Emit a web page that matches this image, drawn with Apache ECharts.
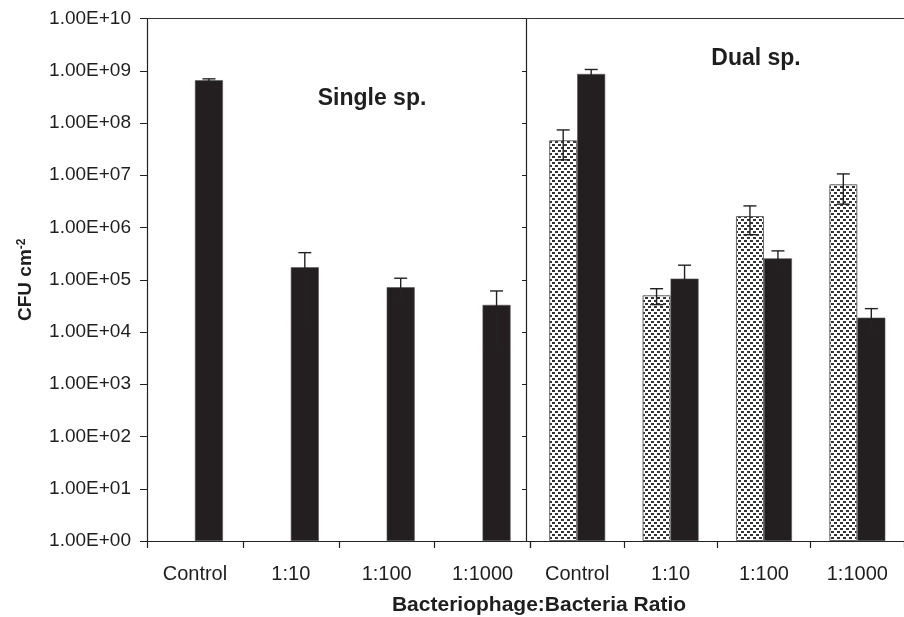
<!DOCTYPE html>
<html>
<head>
<meta charset="utf-8">
<script src="https://cdn.jsdelivr.net/npm/echarts@6/dist/echarts.min.js"></script>
<style>
html,body{margin:0;padding:0;background:#fff;}
#chart{width:904px;height:617px;}
</style>
</head>
<body>
<div id="chart"></div>
<script>
// ---- data ----
const categories = ['Control', '1:10', '1:100', '1:1000'];
const yTickLabels = ['1.00E+00','1.00E+01','1.00E+02','1.00E+03','1.00E+04','1.00E+05','1.00E+06','1.00E+07','1.00E+08','1.00E+09','1.00E+10'];
// Single species panel (only the solid series is present)
const singleDotted = [null, null, null, null];
const singleSolid = [6.6e8, 1.73e5, 7.2e4, 3.3e4];
const singleSolidErr = [4.0e7, 1.57e5, 3.5e4, 2.8e4];
// Dual species panel
const dualDotted = [4.67e7, 5.04e4, 1.66e6, 6.7e6];
const dualDottedErr = [2.7e7, 1.7e4, 0.93e6, 3.9e6];
const dualSolid = [8.67e8, 1.05e5, 2.57e5, 1.88e4];
const dualSolidErr = [1.9e8, 8.5e4, 1.0e5, 0.92e4];
const panelLabels = ['Single sp.', 'Dual sp.'];
const xTitle = 'Bacteriophage:Bacteria Ratio';

// ---- styling ----
const FONT = "'Liberation Sans', Arial, Helvetica, sans-serif";
const INK = '#1e1e1e';
const BAR_W = 28;

function makePattern() {
  const c = document.createElement('canvas');
  c.width = 6; c.height = 6;
  const g = c.getContext('2d');
  g.fillStyle = '#ffffff';
  g.fillRect(0, 0, 6, 6);
  g.fillStyle = '#333333';
  g.fillRect(0, 0, 3, 2);
  g.fillRect(3, 3, 3, 2);
  return c;
}
const dottedFill = { image: makePattern(), repeat: 'repeat' };

function errorSeries(xi, vals, errs, side) {
  const data = [];
  vals.forEach((v, i) => { if (v != null) data.push([i, v, errs[i]]); });
  return {
    type: 'custom',
    xAxisIndex: xi, yAxisIndex: xi,
    data: data,
    encode: { x: 0, y: 1 },
    z: 10,
    silent: true,
    renderItem: function (params, api) {
      const i = api.value(0), v = api.value(1), e = api.value(2);
      const x = api.coord([i, v])[0] + side * BAR_W / 2;
      const yTop = api.coord([i, v + e])[1];
      const low = v - e;
      const yBot = low > 1 ? api.coord([i, low])[1] : api.coord([i, v])[1];
      const cap = 6.5;
      const st = { stroke: '#222', lineWidth: 1.4 };
      return {
        type: 'group',
        children: [
          { type: 'line', shape: { x1: x, y1: yTop, x2: x, y2: yBot }, style: st },
          { type: 'line', shape: { x1: x - cap, y1: yTop, x2: x + cap, y2: yTop }, style: st },
          { type: 'line', shape: { x1: x - cap, y1: yBot, x2: x + cap, y2: yBot }, style: st }
        ]
      };
    }
  };
}

const chart = echarts.init(document.getElementById('chart'), null, { renderer: 'canvas' });

function catAxis(gi) {
  return {
    type: 'category', gridIndex: gi, data: categories,
    axisLine: { show: true, lineStyle: { color: '#222', width: 1.2 } },
    axisTick: { show: true, inside: false, length: 7, alignWithLabel: false, lineStyle: { color: '#222', width: 1.2 } },
    axisLabel: { interval: 0, fontSize: 20, color: INK, fontFamily: FONT, margin: 23 },
    splitLine: { show: false }
  };
}
function topAxis(gi) {
  return {
    type: 'category', gridIndex: gi, data: categories, position: 'top',
    axisLine: { show: true, lineStyle: { color: '#333', width: 1 } },
    axisTick: { show: false }, axisLabel: { show: false }, splitLine: { show: false }
  };
}
function logAxis(gi) {
  const base = {
    type: 'log', logBase: 10, gridIndex: gi, min: 1, max: 1e10, interval: 1,
    axisLine: { show: true, lineStyle: { color: '#222', width: 1.2 } },
    axisTick: { show: true, inside: false, length: gi === 0 ? 7 : 4, lineStyle: { color: '#222', width: 1 } },
    splitLine: { show: false },
    minorTick: { show: false }
  };
  if (gi === 0) {
    base.axisLabel = {
      fontSize: 19, color: INK, fontFamily: FONT, margin: 16, showMinLabel: true, showMaxLabel: true,
      formatter: function (v) { return yTickLabels[Math.round(Math.log10(v))]; }
    };
    base.name = '{a|CFU cm}{s|-2}';
    base.nameLocation = 'middle';
    base.nameRotate = 90;
    base.nameGap = 112;
    base.nameTextStyle = {
      rich: {
        a: { fontSize: 19, fontWeight: 'bold', color: INK, fontFamily: FONT },
        s: { fontSize: 12, fontWeight: 'bold', color: INK, fontFamily: FONT, verticalAlign: 'top' }
      }
    };
  } else {
    base.axisLabel = { show: false };
    base.offset = 4.5;
  }
  return base;
}

const option = {
  animation: false,
  backgroundColor: '#ffffff',
  grid: [
    { left: 147, top: 18.5, width: 383.5, height: 522.5 },
    { left: 530.5, top: 18.5, width: 383.5, height: 522.5 }
  ],
  xAxis: [catAxis(0), catAxis(1), topAxis(0), topAxis(1)],
  yAxis: [logAxis(0), logAxis(1)],
  series: [
    { name: 'dotted', type: 'bar', xAxisIndex: 0, yAxisIndex: 0, data: singleDotted, barWidth: BAR_W, barGap: '0%',
      itemStyle: { color: dottedFill, borderColor: '#666', borderWidth: 1 } },
    { name: 'solid', type: 'bar', xAxisIndex: 0, yAxisIndex: 0, data: singleSolid, barWidth: BAR_W, barGap: '0%',
      itemStyle: { color: '#231f20', borderColor: '#555', borderWidth: 0.6 } },
    { name: 'dotted', type: 'bar', xAxisIndex: 1, yAxisIndex: 1, data: dualDotted, barWidth: BAR_W, barGap: '0%',
      itemStyle: { color: dottedFill, borderColor: '#666', borderWidth: 1 } },
    { name: 'solid', type: 'bar', xAxisIndex: 1, yAxisIndex: 1, data: dualSolid, barWidth: BAR_W, barGap: '0%',
      itemStyle: { color: '#231f20', borderColor: '#555', borderWidth: 0.6 } },
    errorSeries(0, singleSolid, singleSolidErr, 1),
    errorSeries(1, dualDotted, dualDottedErr, -1),
    errorSeries(1, dualSolid, dualSolidErr, 1)
  ],
  graphic: [
    { type: 'text', x: 372, y: 99, style: { text: panelLabels[0], fontSize: 23, fontWeight: 'bold', fill: INK, fontFamily: FONT, textAlign: 'center', textVerticalAlign: 'middle' } },
    { type: 'text', x: 756, y: 59, style: { text: panelLabels[1], fontSize: 23, fontWeight: 'bold', fill: INK, fontFamily: FONT, textAlign: 'center', textVerticalAlign: 'middle' } },
    { type: 'text', x: 539, y: 605, style: { text: xTitle, fontSize: 21, fontWeight: 'bold', fill: INK, fontFamily: FONT, textAlign: 'center', textVerticalAlign: 'middle' } }
  ]
};
chart.setOption(option);
</script>
</body>
</html>
